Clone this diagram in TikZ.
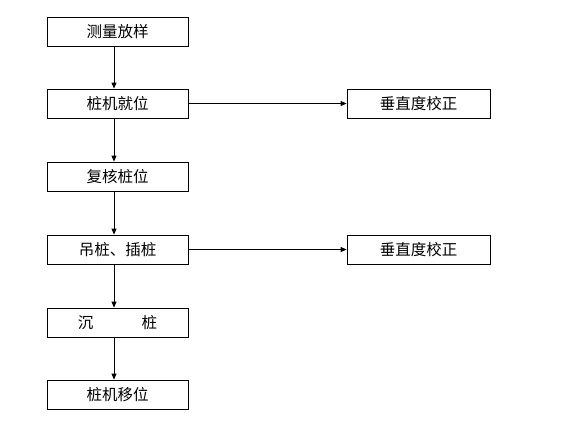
\documentclass[tikz,border=0pt]{standalone}
\usepackage{fontspec}
\setmainfont{Noto Sans CJK SC}
\usetikzlibrary{arrows.meta}
\begin{document}
\begin{tikzpicture}[x=1pt,y=-1pt,
    stepbox/.style={draw,line width=0.8pt,minimum width=141pt,minimum height=29pt,inner sep=0pt,font=\fontsize{15.5}{18}\selectfont},
    arr/.style={line width=0.8pt,-{Triangle[length=6pt,width=5pt]}}]
\useasboundingbox (0,0) rectangle (565,424);
% left column
\node[stepbox] (celiang) at (117.5,31.5) {测量放样};
\node[stepbox] (zhuangji) at (117.5,103.5) {桩机就位};
\node[stepbox] (fuhe) at (117.5,176.5) {复核桩位};
\node[stepbox] (diaozhuang) at (117.5,249.5) {吊桩、插桩};
\node[stepbox] (chenzhuang) at (117.5,322.5) {沉\hspace{3.1em}桩};
\node[stepbox] (yiwei) at (117.5,394.5) {桩机移位};
% right column
\node[stepbox,minimum width=143pt] (jiaozhengA) at (418.5,103.5) {垂直度校正};
\node[stepbox,minimum width=143pt] (jiaozhengB) at (418.5,249.5) {垂直度校正};
% arrows
\draw[arr] ([xshift=-3.5pt]celiang.south) -- ([xshift=-3.5pt]zhuangji.north);
\draw[arr] ([xshift=-3.5pt]zhuangji.south) -- ([xshift=-3.5pt]fuhe.north);
\draw[arr] ([xshift=-3.5pt]fuhe.south) -- ([xshift=-3.5pt]diaozhuang.north);
\draw[arr] ([xshift=-3.5pt]diaozhuang.south) -- ([xshift=-3.5pt]chenzhuang.north);
\draw[arr] ([xshift=-3.5pt]chenzhuang.south) -- ([xshift=-3.5pt]yiwei.north);
\draw[arr] (zhuangji.east) -- (jiaozhengA.west);
\draw[arr] (diaozhuang.east) -- (jiaozhengB.west);
\end{tikzpicture}
\end{document}
